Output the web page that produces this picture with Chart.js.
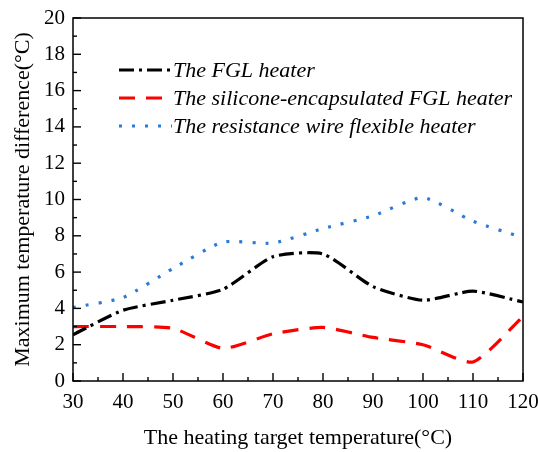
<!DOCTYPE html>
<html>
<head>
<meta charset="utf-8">
<script src="https://cdn.jsdelivr.net/npm/chart.js@4.4.0/dist/chart.umd.min.js"></script>
<style>
  html, body { margin: 0; padding: 0; background: #fff; }
  #wrap { width: 538px; height: 452px; }
</style>
</head>
<body>
<div id="wrap"><canvas id="chart" width="538" height="452"></canvas></div>
<script>
// data
const temps = [30, 40, 50, 60, 70, 80, 90, 100, 110, 120];
const fglHeater = [2.55, 3.9, 4.45, 5.05, 6.85, 7.0, 5.2, 4.45, 4.95, 4.35];
const siliconeHeater = [3.0, 3.0, 2.9, 1.8, 2.6, 2.95, 2.4, 2.0, 1.05, 3.55];
const wireHeater = [4.05, 4.6, 6.2, 7.65, 7.6, 8.4, 9.1, 10.1, 8.8, 7.9];
const seriesNames = [
  'The FGL heater',
  'The silicone-encapsulated FGL heater',
  'The resistance wire flexible heater'
];

const SERIF = '"Liberation Serif", "DejaVu Serif", serif';
const BLUE = '#2b7bd6';

const pts = arr => temps.map((t, i) => ({ x: t, y: arr[i] }));

const lineStyles = [
  { color: '#000', dash: [15, 5, 3, 5] },
  { color: '#f00', dash: [16, 11] },
  { color: BLUE, dash: [3, 10] }
];

// inward ticks, frame and legend drawn by hand
const decor = {
  id: 'decor',
  afterDraw(chart) {
    const { ctx, chartArea: a, scales } = chart;
    ctx.save();
    ctx.strokeStyle = '#000';
    ctx.lineWidth = 1.5;
    ctx.setLineDash([]);
    ctx.strokeRect(a.left, a.top, a.right - a.left, a.bottom - a.top);

    ctx.lineWidth = 1.4;
    for (let v = 30; v <= 120; v += 5) {
      const x = scales.x.getPixelForValue(v);
      const len = v % 10 === 0 ? 8 : 4;
      ctx.beginPath();
      ctx.moveTo(x, a.bottom);
      ctx.lineTo(x, a.bottom - len);
      ctx.stroke();
    }
    for (let v = 0; v <= 20; v += 1) {
      const y = scales.y.getPixelForValue(v);
      const len = v % 2 === 0 ? 8 : 4;
      ctx.beginPath();
      ctx.moveTo(a.left, y);
      ctx.lineTo(a.left + len, y);
      ctx.stroke();
    }

    // legend
    ctx.font = 'italic 22px ' + SERIF;
    ctx.textBaseline = 'middle';
    ctx.fillStyle = '#000';
    const rows = [70, 98, 126];
    seriesNames.forEach((name, i) => {
      const st = lineStyles[i];
      ctx.strokeStyle = st.color;
      ctx.lineWidth = 3.2;
      ctx.setLineDash(st.dash);
      ctx.beginPath();
      ctx.moveTo(119, rows[i]);
      ctx.lineTo(172, rows[i]);
      ctx.stroke();
      ctx.setLineDash([]);
      ctx.fillText(name, 173, rows[i] + 1);
    });
    ctx.restore();
  }
};

new Chart(document.getElementById('chart'), {
  type: 'line',
  data: {
    datasets: [fglHeater, siliconeHeater, wireHeater].map((arr, i) => ({
      label: seriesNames[i],
      data: pts(arr),
      borderColor: lineStyles[i].color,
      borderDash: lineStyles[i].dash,
      borderWidth: 3.2,
      pointRadius: 0,
      tension: 0.2,
      fill: false
    }))
  },
  options: {
    responsive: false,
    animation: false,
    layout: { padding: { top: 18, right: 15, left: 0, bottom: 0 } },
    plugins: { legend: { display: false }, tooltip: { enabled: false } },
    scales: {
      x: {
        type: 'linear',
        min: 30, max: 120,
        grid: { display: false, drawTicks: false },
        border: { display: false },
        ticks: { stepSize: 10, color: '#000', padding: 9, font: { family: SERIF, size: 21 } },
        title: {
          display: true,
          text: 'The heating target temperature(°C)',
          color: '#000',
          font: { family: SERIF, size: 22 },
          padding: { top: 10, bottom: 1 }
        },
        afterFit(s) { s.height = 71; s.paddingRight = 0; s.paddingLeft = 0; }
      },
      y: {
        min: 0, max: 20,
        grid: { display: false, drawTicks: false },
        border: { display: false },
        ticks: { stepSize: 2, color: '#000', padding: 8, font: { family: SERIF, size: 21 } },
        title: {
          display: true,
          text: 'Maximum temperature difference(°C)',
          color: '#000',
          font: { family: SERIF, size: 22 },
          padding: { top: 10, bottom: 2 }
        },
        afterFit(s) { s.width = 73; s.paddingTop = 0; s.paddingBottom = 0; }
      }
    }
  },
  plugins: [decor]
});
</script>
</body>
</html>
